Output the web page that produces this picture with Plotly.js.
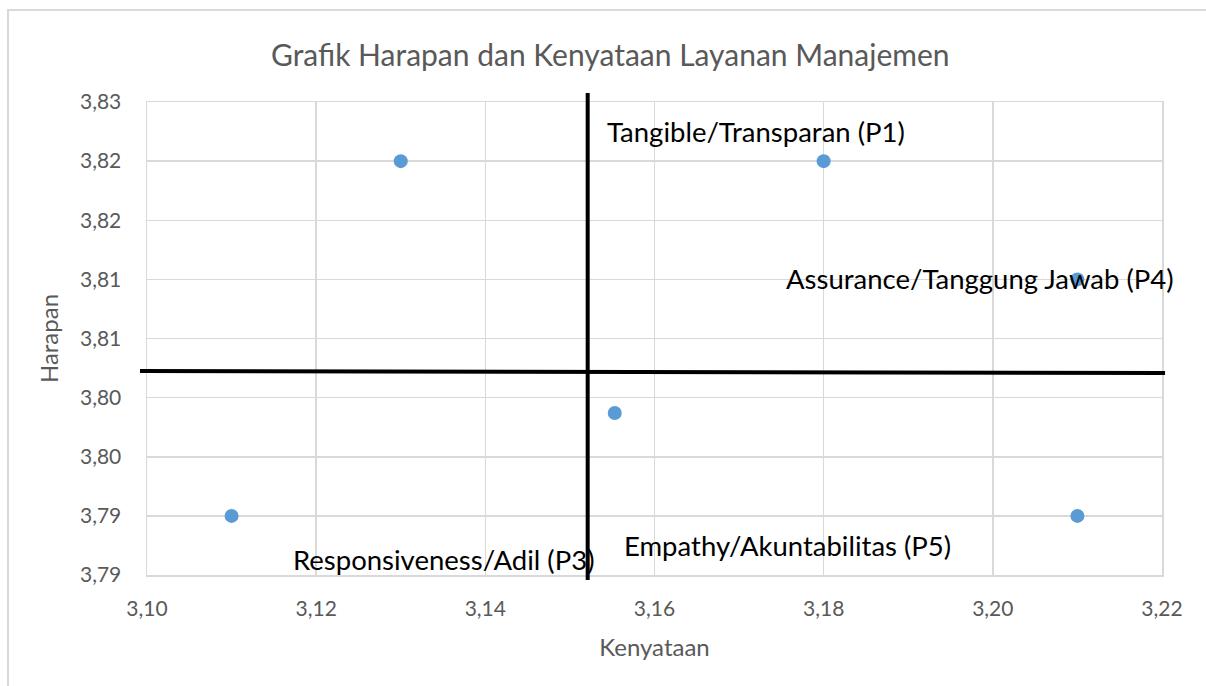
<!DOCTYPE html>
<html>
<head>
<meta charset="utf-8">
<script src="https://cdn.plot.ly/plotly-3.0.1.min.js"></script>
<style>
  html, body { margin: 0; padding: 0; background: #fff; }
  #wrap { position: relative; width: 1206px; height: 686px; overflow: hidden; }
  #chart { width: 1206px; height: 686px; }
  #frame { position: absolute; left: 7px; top: 9px; width: 1300px; height: 800px;
           border: 2px solid #d9d9d9; pointer-events: none; }
</style>
</head>
<body>
<div id="wrap"><div id="chart"></div><div id="frame"></div></div>
<script>
// ---- data ----
const kenyataan = [3.13, 3.18, 3.21, 3.1553, 3.11, 3.21];
const harapan   = [3.82, 3.82, 3.81, 3.7987, 3.79, 3.79];

const labelTexts = ["Tangible/Transparan (P1)", "Assurance/Tanggung Jawab (P4)", "Empathy/Akuntabilitas (P5)", "Responsiveness/Adil (P3)"];
const labelX = [3.1542, 3.1753, 3.1561, 3.1170];
const labelY = [3.8225, 3.8101, 3.7875, 3.7863];

const dividerX = 3.1521;
const dividerY = [3.80225, 3.80208];

const yTickVals  = [3.785, 3.79, 3.795, 3.80, 3.805, 3.81, 3.815, 3.82, 3.825];
const yTickText  = ["3,79", "3,79", "3,80", "3,80", "3,81", "3,81", "3,82", "3,82", "3,83"];
const xTickVals  = [3.10, 3.12, 3.14, 3.16, 3.18, 3.20, 3.22];
const xTickText  = ["3,10", "3,12", "3,14", "3,16", "3,18", "3,20", "3,22"];

const chartTitle = "Grafik Harapan dan Kenyataan Layanan Manajemen";
const xTitle = "Kenyataan";
const yTitle = "Harapan";

// ---- chart ----
const FONT = "Lato, 'Open Sans', sans-serif";
const GRAY = "#595959";
const GRID = "#d9d9d9";

const trace = {
  type: "scatter", mode: "markers",
  x: kenyataan, y: harapan,
  marker: { color: "#5b9bd5", size: 14 },
  hoverinfo: "x+y", showlegend: false
};

const annotations = labelTexts.map((t, i) => ({
  text: t, x: labelX[i], y: labelY[i], xref: "x", yref: "y",
  xanchor: "left", yanchor: "middle", showarrow: false,
  font: { family: FONT, size: 27.5, color: "#000" }
}));

const layout = {
  width: 1206, height: 686,
  margin: { l: 147, r: 44, t: 102, b: 111 },
  paper_bgcolor: "#fff", plot_bgcolor: "#fff",
  font: { family: FONT, color: GRAY },
  title: { text: chartTitle, x: 0.506, xanchor: "center", y: 1 - 55/686, yanchor: "middle",
           yref: "container", font: { family: FONT, size: 30, color: GRAY } },
  xaxis: {
    range: [3.10, 3.22], tickvals: xTickVals, ticktext: xTickText,
    showgrid: true, gridcolor: GRID, gridwidth: 1.5,
    showline: true, linecolor: GRID, linewidth: 1.5, mirror: true,
    zeroline: false, ticks: "", ticklen: 0, ticklabelstandoff: 14,
    tickfont: { family: FONT, size: 21, color: GRAY },
    title: { text: xTitle, font: { family: FONT, size: 24, color: GRAY }, standoff: 20 }
  },
  yaxis: {
    range: [3.785, 3.825], tickvals: yTickVals, ticktext: yTickText,
    showgrid: true, gridcolor: GRID, gridwidth: 1.5,
    showline: true, linecolor: GRID, linewidth: 1.5, mirror: true,
    zeroline: false, ticks: "", ticklen: 0, ticklabelstandoff: 20,
    tickfont: { family: FONT, size: 21, color: GRAY },
    title: { text: yTitle, font: { family: FONT, size: 24, color: GRAY }, standoff: 14 }
  },
  shapes: [
    { type: "line", xref: "x", yref: "paper", x0: dividerX, x1: dividerX, y0: -0.0106, y1: 1.019,
      line: { color: "#000", width: 4 } },
    { type: "line", xref: "paper", yref: "y", x0: -0.0069, x1: 1.003, y0: dividerY[0], y1: dividerY[1],
      line: { color: "#000", width: 4 } }
  ],
  annotations: annotations
};

Plotly.newPlot("chart", [trace], layout, { displayModeBar: false, staticPlot: true });
</script>
</body>
</html>
